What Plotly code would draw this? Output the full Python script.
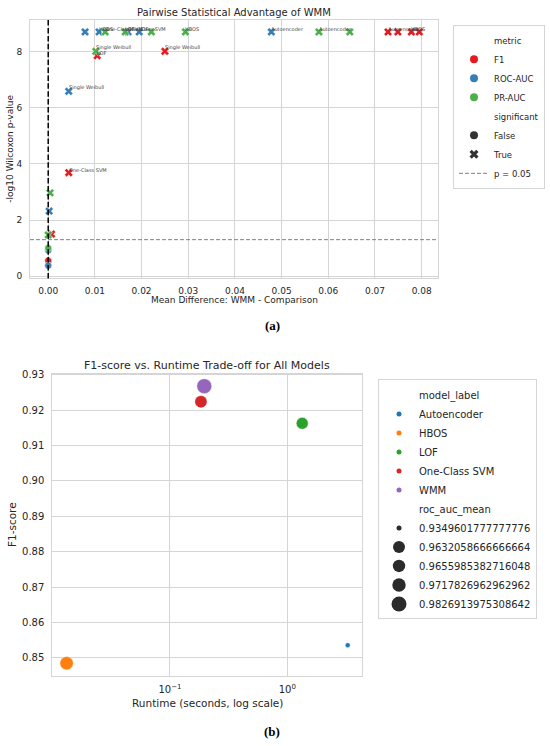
import numpy as np
import plotly.graph_objects as go

W, H = 550, 746

# (a) pairwise Wilcoxon test, WMM vs each comparison model
metric = ["F1"] * 9 + ["ROC-AUC"] * 9 + ["PR-AUC"] * 10
mean_diff = [0.0728, 0.0749, 0.0778, 0.0795, 0.0105, 0.0250, 0.0044, 0.0007, 0.0000,
             0.0079, 0.0109, 0.0171, 0.0195, 0.0478, 0.0044, 0.0002, 0.0000, 0.0000,
             0.0122, 0.0165, 0.0221, 0.0294, 0.0580, 0.0646, 0.0102, 0.0004, 0.0000, 0.0000]
neg_log_p = [8.71, 8.71, 8.71, 8.71, 7.86, 8.02, 3.69, 1.50, 0.55,
             8.71, 8.71, 8.71, 8.71, 8.71, 6.59, 2.32, 0.92, 0.38,
             8.71, 8.71, 8.71, 8.71, 8.71, 8.71, 8.02, 2.97, 1.47, 1.00]
significant = [True] * 8 + [False] + [True] * 7 + [False] * 2 + [True] * 9 + [False]
comparison = ["Autoencoder", "", "HBOS", "", "LOF", "Single Weibull", "One-Class SVM", "", "",
              "", "HBOS", "One-Class SVM", "LOF", "Autoencoder", "Single Weibull", "", "", "",
              "One-Class SVM", "LOF", "", "HBOS", "Autoencoder", "", "Single Weibull", "", "", ""]
p_threshold = 0.05

# (b) F1 vs runtime per model
model_label = ["Autoencoder", "HBOS", "LOF", "One-Class SVM", "WMM"]
runtime_mean = [3.27, 0.01315, 1.34, 0.1836, 0.196]
f1_mean = [0.8536, 0.8485, 0.9163, 0.9224, 0.9268]
roc_auc_mean = [0.9349601777777776, 0.9717826962962962, 0.9632058666666664,
                0.9655985382716048, 0.9826913975308642]

metric_colors = {"F1": "#e41a1c", "ROC-AUC": "#377eb8", "PR-AUC": "#4daf4a"}
model_colors = ["#1f77b4", "#ff7f0e", "#2ca02c", "#d62728", "#9467bd"]
FONT = "DejaVu Sans"
TXT = "#262626"
GRID = "#d5d5d5"


def px(x):
    return x / W


def py(y):
    return 1 - y / H


def marker_diam(v, vmin, vmax, dmin=5.0, dmax=15.0):
    # seaborn-like linear mapping in marker area
    frac = (v - vmin) / (vmax - vmin)
    return float(np.sqrt(dmin ** 2 + (dmax ** 2 - dmin ** 2) * frac))


fig = go.Figure()

# ---- panel (a) points
for m in ["F1", "ROC-AUC", "PR-AUC"]:
    for sig in [False, True]:
        idx = [i for i in range(len(metric)) if metric[i] == m and significant[i] == sig]
        if not idx:
            continue
        fig.add_trace(go.Scatter(
            x=[mean_diff[i] for i in idx], y=[neg_log_p[i] for i in idx],
            mode="markers", xaxis="x", yaxis="y", showlegend=False,
            marker=dict(color=metric_colors[m], symbol="x" if sig else "circle",
                        size=7.5 if sig else 7, line=dict(color="white", width=0.5)),
        ))

for i, lab in enumerate(comparison):
    if lab:
        fig.add_annotation(x=mean_diff[i], y=neg_log_p[i], xref="x", yref="y", text=lab,
                           showarrow=False, xanchor="left", yanchor="bottom",
                           xshift=-1, yshift=-1, borderpad=0,
                           font=dict(family=FONT, size=5, color="#444444"))

p_line = -np.log10(p_threshold)
fig.add_shape(type="line", xref="x", yref="y domain", x0=0, x1=0, y0=0, y1=1,
              line=dict(color="black", width=1.5, dash="5.5px,2.4px"))
fig.add_shape(type="line", xref="x domain", yref="y", x0=0, x1=1, y0=p_line, y1=p_line,
              line=dict(color="#808080", width=1, dash="4px,2px"))


# legend entries
def header(name, legend):
    fig.add_trace(go.Scatter(x=[None], y=[None], mode="markers", name=name, legend=legend,
                             marker=dict(size=1, color="rgba(0,0,0,0)")))


header("metric", "legend")
for m in ["F1", "ROC-AUC", "PR-AUC"]:
    fig.add_trace(go.Scatter(x=[None], y=[None], mode="markers", name=m, legend="legend",
                             marker=dict(color=metric_colors[m], size=8)))
header("significant", "legend")
fig.add_trace(go.Scatter(x=[None], y=[None], mode="markers", name="False", legend="legend",
                         marker=dict(color="#333333", size=8, symbol="circle")))
fig.add_trace(go.Scatter(x=[None], y=[None], mode="markers", name="True", legend="legend",
                         marker=dict(color="#333333", size=8, symbol="x")))
fig.add_trace(go.Scatter(x=[None], y=[None], mode="lines", name="p = 0.05", legend="legend",
                         line=dict(color="#808080", width=1, dash="4px,2px")))

# ---- panel (b) points
vmin, vmax = min(roc_auc_mean), max(roc_auc_mean)
for i, name in enumerate(model_label):
    fig.add_trace(go.Scatter(
        x=[runtime_mean[i]], y=[f1_mean[i]], mode="markers", xaxis="x2", yaxis="y2",
        showlegend=False,
        marker=dict(color=model_colors[i], size=marker_diam(roc_auc_mean[i], vmin, vmax),
                    line=dict(color="white", width=0.5)),
    ))

header("model_label", "legend2")
for i, name in enumerate(model_label):
    fig.add_trace(go.Scatter(x=[None], y=[None], mode="markers", name=name, legend="legend2",
                             marker=dict(color=model_colors[i], size=5)))
header("roc_auc_mean", "legend2")
for v in sorted(roc_auc_mean):
    fig.add_trace(go.Scatter(x=[None], y=[None], mode="markers", name=repr(v), legend="legend2",
                             marker=dict(color="#2b2b2b", size=marker_diam(v, vmin, vmax))))

axis_common = dict(showgrid=True, gridcolor=GRID, gridwidth=1, zeroline=False,
                   showline=True, linecolor=GRID, linewidth=1, mirror=True, ticks="",
                   tickfont=dict(family=FONT, size=9, color=TXT))
font_b = {"tickfont": dict(family=FONT, size=10, color=TXT)}

fig.update_layout(
    width=W, height=H, margin=dict(l=0, r=0, t=0, b=0),
    paper_bgcolor="white", plot_bgcolor="white",
    font=dict(family=FONT, color=TXT),
    xaxis=dict(domain=[px(30), px(438)], anchor="y", range=[-0.0039, 0.0835],
               tickvals=[0, 0.01, 0.02, 0.03, 0.04, 0.05, 0.06, 0.07, 0.08],
               tickformat=".2f", ticklabelstandoff=4, **axis_common),
    yaxis=dict(domain=[py(277), py(16)], anchor="x", range=[-0.08, 9.14],
               tickvals=[0, 2, 4, 6, 8], ticklabelstandoff=5, **axis_common),
    xaxis2=dict(domain=[px(52.3), px(361.7)], anchor="y2", type="log",
                range=[-2.003, 0.634], tickvals=[0.1, 1],
                ticktext=["10<sup>\u22121</sup>", "10<sup>0</sup>"], ticklabelstandoff=4,
                **{**axis_common, **font_b}),
    yaxis2=dict(domain=[py(678.3), py(373.3)], anchor="x2", range=[0.8449, 0.9303],
                dtick=0.01, tickformat=".2f", ticklabelstandoff=5,
                **{**axis_common, **font_b}),
    legend=dict(x=px(453), y=py(21), xanchor="left", yanchor="top",
                bgcolor="white", bordercolor=GRID, borderwidth=1,
                font=dict(family=FONT, size=8.5, color=TXT), itemsizing="trace"),
    legend2=dict(x=px(378), y=py(379), xanchor="left", yanchor="top",
                 bgcolor="white", bordercolor=GRID, borderwidth=1,
                 font=dict(family=FONT, size=10, color=TXT), itemsizing="trace"),
)

# titles, axis labels and captions
texts = [
    ("Pairwise Statistical Advantage of WMM", 234, 9, 10, 0, False),
    ("Mean Difference: WMM - Comparison", 234, 299, 9, 0, False),
    ("-log10 Wilcoxon p-value", 10, 146, 9, -90, False),
    ("F1-score vs. Runtime Trade-off for All Models", 207, 365, 11, 0, False),
    ("Runtime (seconds, log scale)", 207, 706, 10.5, 0, False),
    ("F1-score", 12, 526, 10.5, -90, False),
    ("<b>(a)</b>", 272, 325, 13, 0, True),
    ("<b>(b)</b>", 272, 734, 13, 0, True),
]
for t, x, y, s, ang, serif in texts:
    fig.add_annotation(text=t, x=px(x), y=py(y), xref="paper", yref="paper",
                       showarrow=False, xanchor="center", yanchor="middle", textangle=ang,
                       font=dict(family="Liberation Serif" if serif else FONT, size=s,
                                 color="black" if serif else TXT))

# the page's default 8px body margin would push the figure off-grid
fig.write_html("out.html", config={"displayModeBar": False},
               post_script="document.body.style.margin = '0';")
